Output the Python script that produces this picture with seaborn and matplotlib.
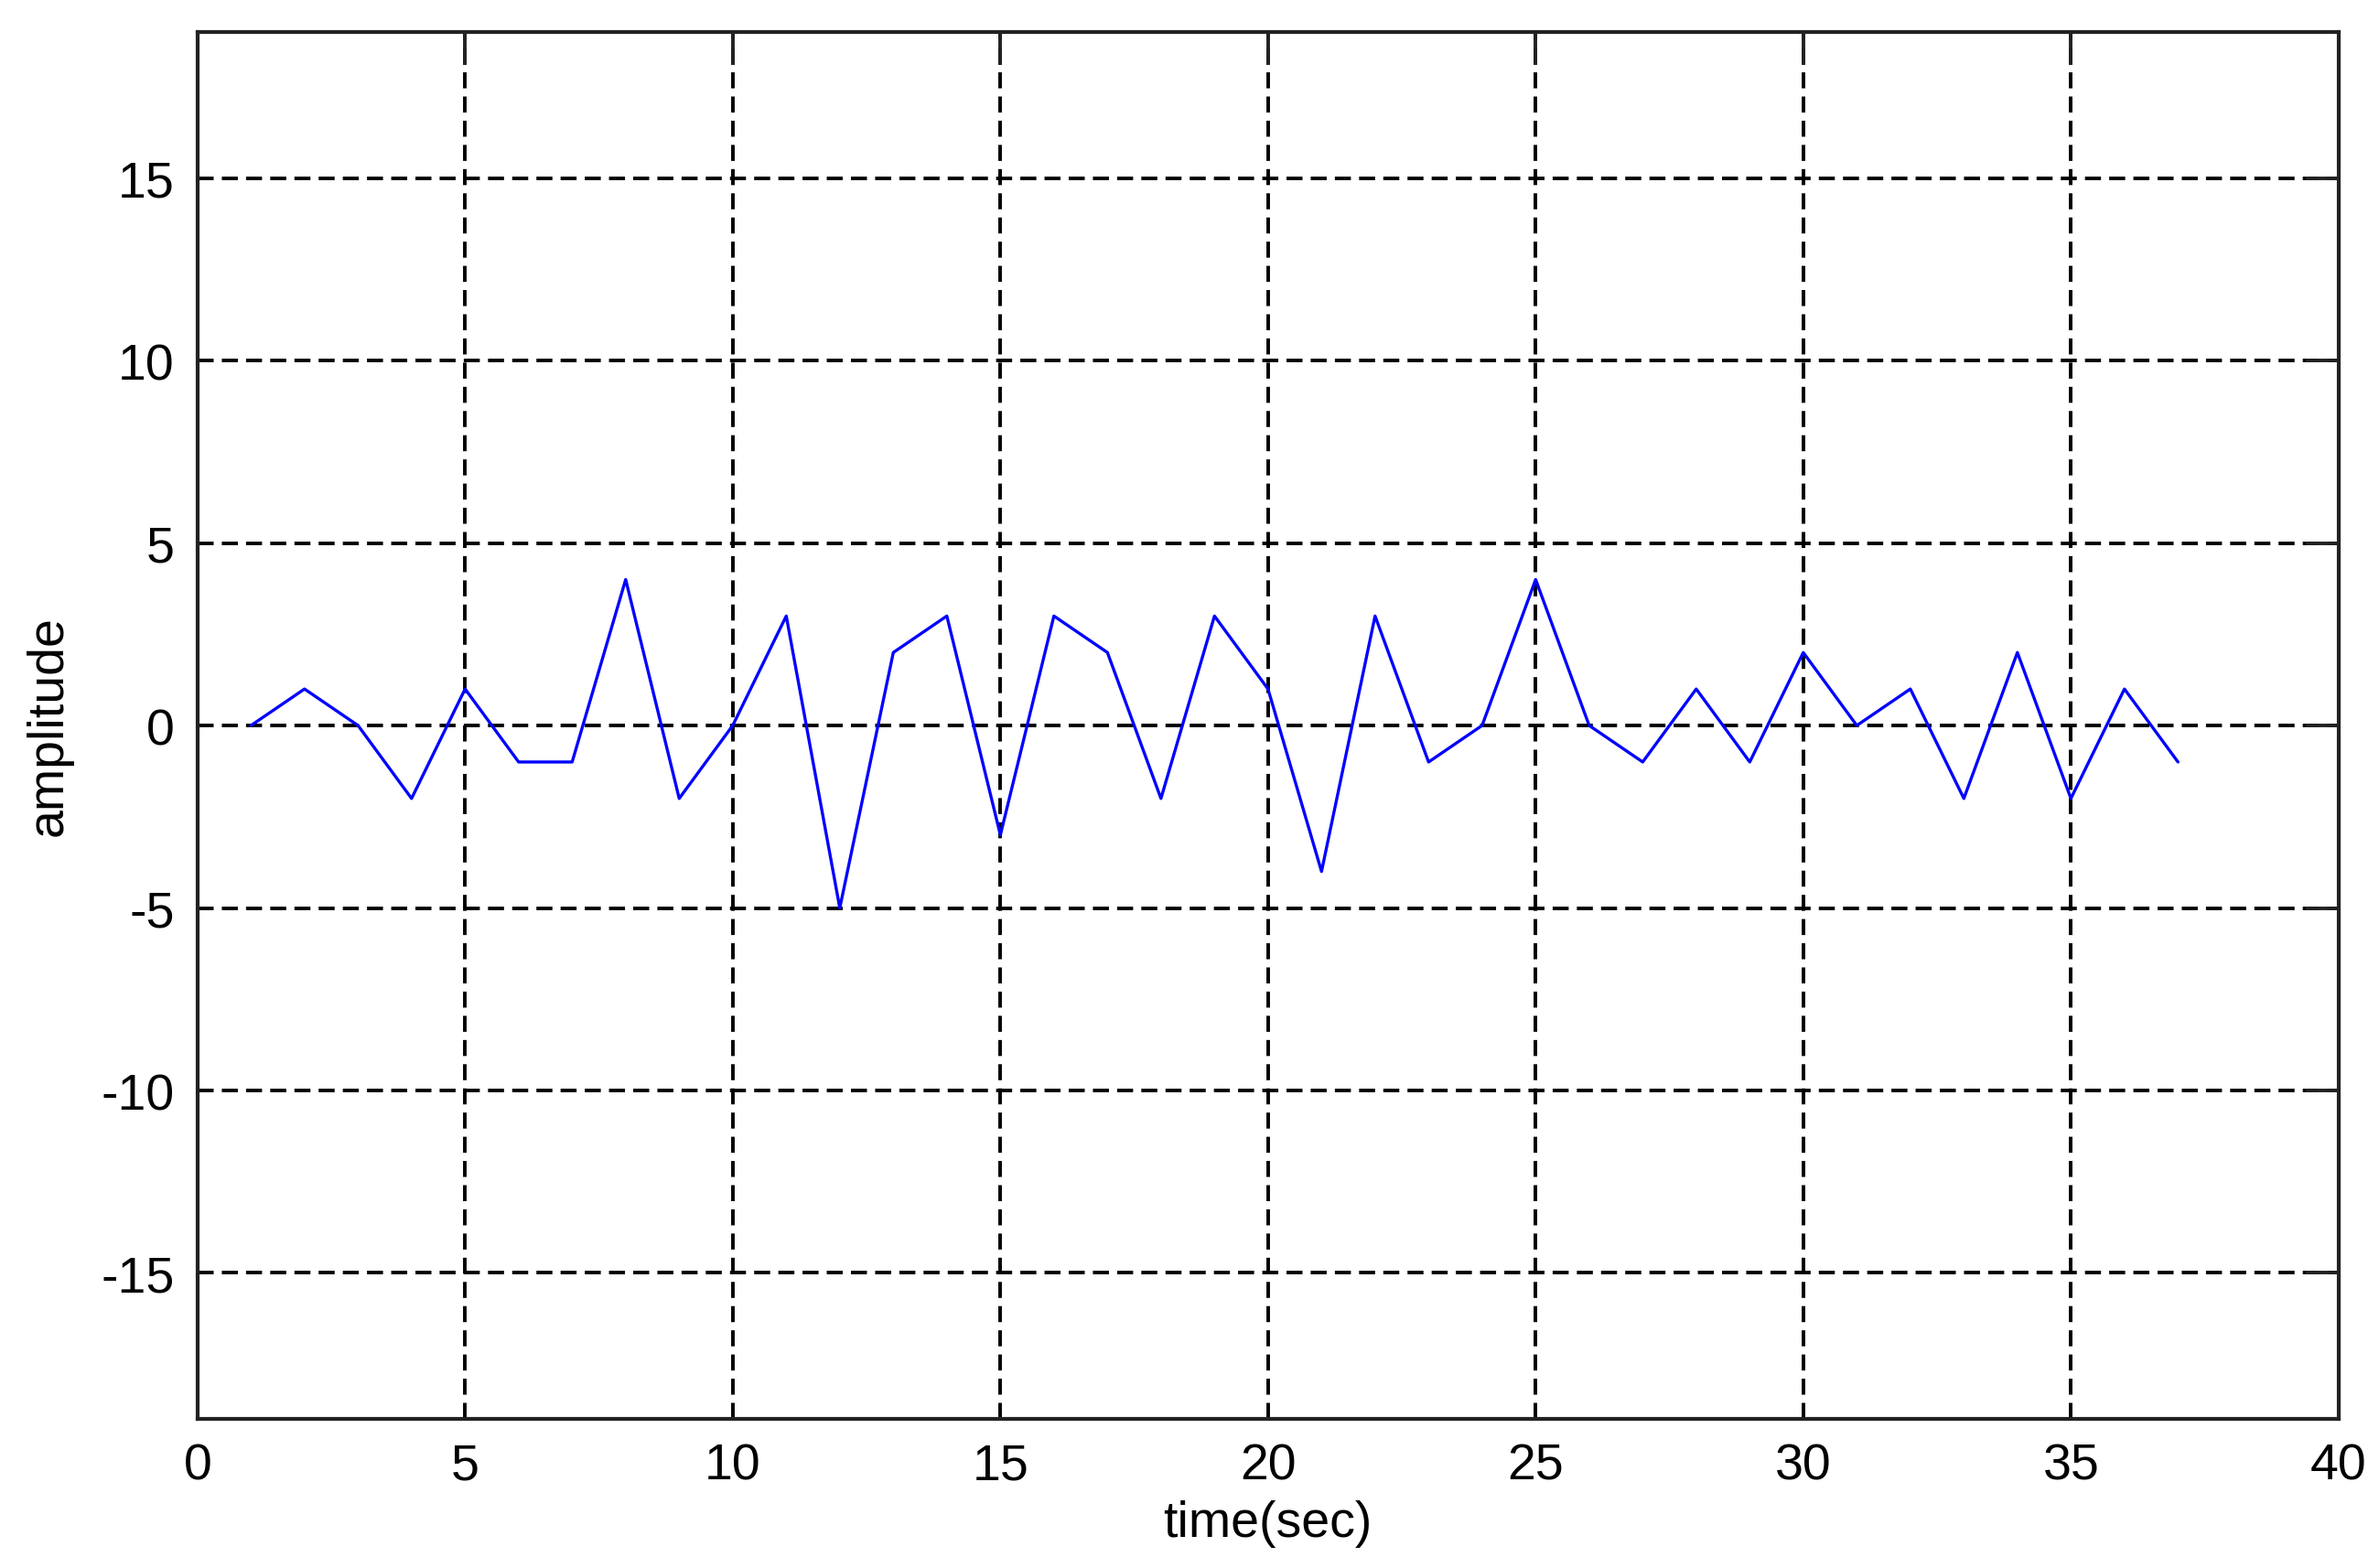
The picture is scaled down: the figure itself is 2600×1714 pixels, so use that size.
import numpy as np
import pandas as pd
import matplotlib.pyplot as plt
import seaborn as sns

# data
time_sec = list(range(1, 38))
amplitude = [0, 1, 0, -2, 1, -1, -1, 4, -2, 0,
             3, -5, 2, 3, -3, 3, 2, -2, 3, 1,
             -4, 3, -1, 0, 4, 0, -1, 1, -1, 2,
             0, 1, -2, 2, -2, 1, -1]
x_ticks = [0, 5, 10, 15, 20, 25, 30, 35, 40]
y_ticks = [-15, -10, -5, 0, 5, 10, 15]

sns.set_theme(style="white")
plt.rcParams["font.family"] = ["Liberation Sans", "DejaVu Sans"]
plt.rcParams["axes.unicode_minus"] = False
plt.rcParams["text.color"] = "black"
plt.rcParams["axes.labelcolor"] = "black"
plt.rcParams["xtick.color"] = "black"
plt.rcParams["ytick.color"] = "black"

df = pd.DataFrame({"time": time_sec, "amplitude": amplitude})

fig = plt.figure(figsize=(26, 17.15), dpi=100)
ax = fig.add_axes([0.083, 0.095, 0.9, 0.884])

sns.lineplot(data=df, x="time", y="amplitude", ax=ax,
             color="#0000ff", linewidth=2.4)

ax.set_xlim(0, 40)
ax.set_ylim(-19, 19)
ax.set_xticks(x_ticks)
ax.set_yticks(y_ticks)

ax.grid(True, color="black", linestyle=(0, (4.5, 2.3)), linewidth=2.8)
ax.set_axisbelow(True)

for s in ax.spines.values():
    s.set_color("#222222")
    s.set_linewidth(3)

ax.tick_params(direction="in", length=26, width=2.8, color="#222222",
               top=True, right=True, labelsize=40, pad=18)

ax.set_xlabel("time(sec)", fontsize=40, labelpad=8)
ax.set_ylabel("amplitude", fontsize=40, labelpad=22)

fig.savefig("out.png", dpi=100, facecolor="white")
